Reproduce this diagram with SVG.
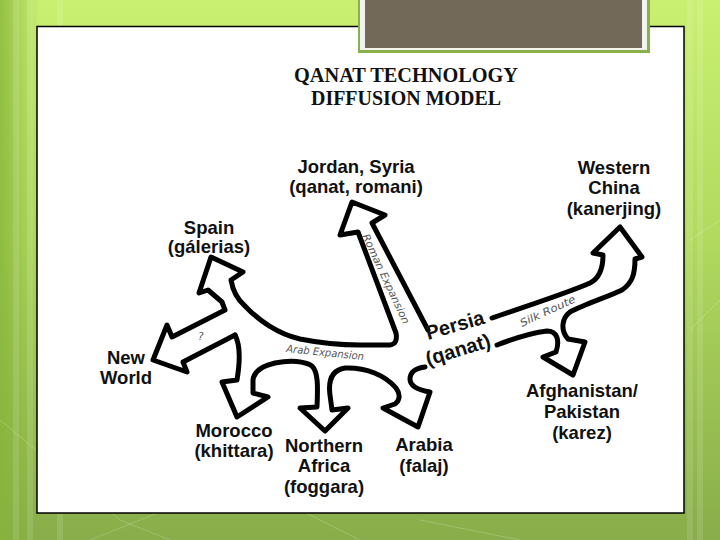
<svg xmlns="http://www.w3.org/2000/svg" width="720" height="540" viewBox="0 0 720 540">
  <defs>
    <linearGradient id="bg" x1="0" y1="0" x2="0" y2="1">
      <stop offset="0" stop-color="#c9f070"/>
      <stop offset="0.45" stop-color="#b0d95e"/>
      <stop offset="1" stop-color="#88ad4a"/>
    </linearGradient>
    <linearGradient id="edge" x1="0" y1="0" x2="1" y2="0">
      <stop offset="0" stop-color="#86b43a" stop-opacity="0.8"/>
      <stop offset="1" stop-color="#86b43a" stop-opacity="0"/>
    </linearGradient>
    <style>
      .arrow { fill: none; stroke: #000; stroke-width: 5; stroke-linejoin: round; stroke-linecap: round; }
      .lbl { font-family: "Liberation Sans", Arial, sans-serif; font-weight: bold; font-size: 18.5px; fill: #111; text-anchor: middle; }
      .route { font-family: "DejaVu Sans", sans-serif; font-size: 10.5px; fill: #555; font-style: italic; }
      .title { font-family: "Liberation Serif", "Times New Roman", serif; font-weight: bold; font-size: 20px; fill: #111; }
    </style>
  </defs>

  <!-- slide background -->
  <rect x="0" y="0" width="720" height="540" fill="url(#bg)"/>
  <rect x="0" y="0" width="40" height="540" fill="url(#edge)"/>
  <g stroke="#ffffff" stroke-opacity="0.12" stroke-width="6" fill="none">
    <line x1="16" y1="0" x2="16" y2="540"/>
    <line x1="30" y1="0" x2="30" y2="540"/>
    <line x1="60" y1="0" x2="60" y2="540"/>
    <line x1="700" y1="0" x2="700" y2="540"/>
    <line x1="690" y1="0" x2="690" y2="540"/>
  </g>
  <g stroke="#ffffff" stroke-opacity="0.2" stroke-width="1" fill="none">
    <path d="M0,420 L120,520 L170,540"/>
    <path d="M90,540 L240,480 L360,540"/>
    <path d="M420,520 L520,540"/>
    <path d="M720,300 L690,330 M690,240 L720,220"/>
  </g>

  <!-- white content box -->
  <rect x="37" y="26.5" width="647" height="486.5" fill="#ffffff" stroke="#000" stroke-width="1.5"/>

  <!-- brown title placeholder -->
  <rect x="358" y="-4" width="292" height="57" fill="#8ab04a"/>
  <rect x="360" y="-4" width="287" height="54" fill="#f1f4ec"/>
  <rect x="365" y="-4" width="277" height="52" fill="#736959"/>

  <!-- title -->
  <g id="title">
    <text class="title" x="294" y="82" textLength="224" lengthAdjust="spacingAndGlyphs">QANAT TECHNOLOGY</text>
    <text class="title" x="311" y="105" textLength="190" lengthAdjust="spacingAndGlyphs">DIFFUSION MODEL</text>
  </g>

  <!-- connectors (arrow outlines) -->
  <g id="connectors">
    <path class="arrow" d="M235,335 L183,362 L187,372 L153,360 L167,325 L172,337 L225,310 L222,302 L208,290 L199,293 L211,257 L243,272 L231,280 C233,292 238,300 245,306 C258,320 278,334 300,339 C320,343 340,345 360,345 L390,345 Q398,344 396,333 L358,232 L340,235 L352,202 L385,215 L372,223 L428,330"/>
    <path class="arrow" d="M235,335 C241,346 240,362 237,380 L222,382 L237,417 L268,397 L253,393 L253,380 C254,372 262,366 275,363 C290,360 305,361 312,366 C318,372 318,385 317,407 L300,408 L325,431 L348,408 L332,410 L330,395 C328,380 332,370 345,368 C365,367 385,375 396,388 C402,396 398,402 395,404 L383,408 L418,427 L430,392 C418,390 410,386 410,379 C410,372 416,368 425,367"/>
    <path class="arrow" d="M497,345 C510,340 530,333 547,331 C557,331 560,340 556,352 L543,357 L573,375 L585,342 L568,339 C560,330 562,318 570,312 C585,304 610,296 622,290 C632,283 635,275 635,259 L642,257 L620,227 L593,253 L603,255 C603,268 600,278 590,283 C570,292 530,305 492,318"/>
    <text class="route" transform="translate(362,236) rotate(65)" textLength="98" lengthAdjust="spacingAndGlyphs">Roman Expansion</text>
    <text class="route" transform="translate(522,327) rotate(-25)" textLength="60" lengthAdjust="spacingAndGlyphs">Silk Route</text>
    <text class="route" transform="translate(286,352) rotate(6)" textLength="78" lengthAdjust="spacingAndGlyphs">Arab Expansion</text>
    <text class="route" x="198" y="340">?</text>
  </g>

  <!-- nodes -->
  <g id="persia">
    <text class="lbl" style="text-anchor:start;font-size:20px" transform="translate(428,340) rotate(-16)">Persia</text>
    <text class="lbl" style="text-anchor:start;font-size:20px" transform="translate(428,366) rotate(-17)">(qanat)</text>
  </g>
  <g id="jordan">
    <text class="lbl" x="356" y="173">Jordan, Syria</text>
    <text class="lbl" x="356" y="193">(qanat, romani)</text>
  </g>
  <g id="spain">
    <text class="lbl" x="209" y="234">Spain</text>
    <text class="lbl" x="209" y="253">(gálerias)</text>
  </g>
  <g id="china">
    <text class="lbl" x="614" y="174">Western</text>
    <text class="lbl" x="614" y="194">China</text>
    <text class="lbl" x="614" y="215">(kanerjing)</text>
  </g>
  <g id="newworld">
    <text class="lbl" x="126" y="364">New</text>
    <text class="lbl" x="126" y="384">World</text>
  </g>
  <g id="morocco">
    <text class="lbl" x="234" y="437">Morocco</text>
    <text class="lbl" x="234" y="457">(khittara)</text>
  </g>
  <g id="nafrica">
    <text class="lbl" x="324" y="452">Northern</text>
    <text class="lbl" x="324" y="472">Africa</text>
    <text class="lbl" x="324" y="493">(foggara)</text>
  </g>
  <g id="arabia">
    <text class="lbl" x="424" y="451">Arabia</text>
    <text class="lbl" x="424" y="472">(falaj)</text>
  </g>
  <g id="afghan">
    <text class="lbl" x="582" y="397">Afghanistan/</text>
    <text class="lbl" x="582" y="418">Pakistan</text>
    <text class="lbl" x="582" y="439">(karez)</text>
  </g>
</svg>
